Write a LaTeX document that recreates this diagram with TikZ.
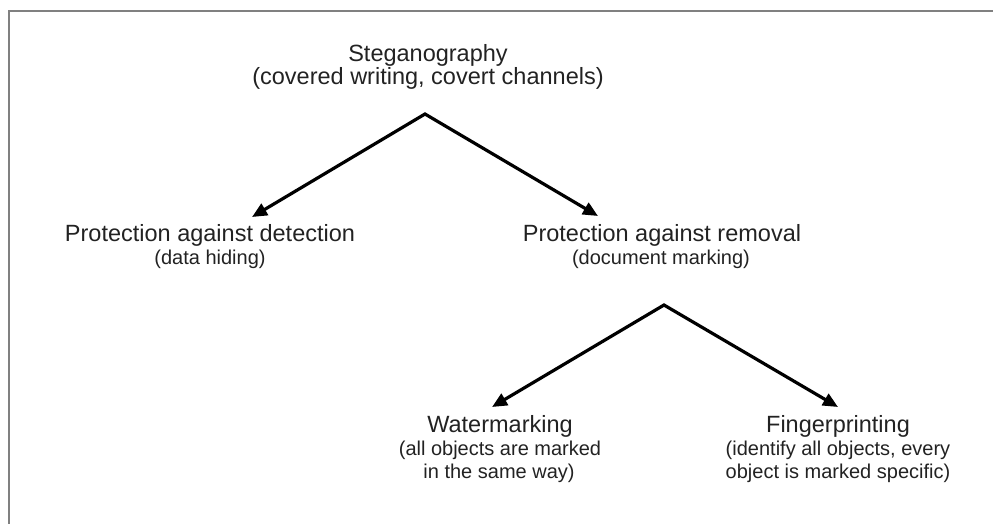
\documentclass[tikz,border=0pt]{standalone}
\usepackage{fontspec}
\setmainfont{Liberation Sans}
\usetikzlibrary{arrows.meta}
\definecolor{txt}{HTML}{222222}
\definecolor{frame}{HTML}{808080}
\tikzset{
  mainline/.style={anchor=base, inner sep=0pt, text=txt, font=\fontsize{23.5}{26}\selectfont},
  subline/.style={anchor=base, inner sep=0pt, text=txt, font=\fontsize{20}{23}\selectfont},
  branch/.style={line width=3.2pt, black, {Triangle[length=15pt,width=13pt]}-{Triangle[length=15pt,width=13pt]}},
  frameline/.style={frame, line width=2pt}
}
\begin{document}
\begin{tikzpicture}[x=1pt,y=-1pt]
\useasboundingbox (0,0) rectangle (993,523);
% frame (top and left edges)
\coordinate (fbl) at (9,524);
\coordinate (ftl) at (9,11);
\coordinate (ftr) at (994,11);
\draw[frameline] (fbl) -- (ftl) -- (ftr);

% texts
\node[mainline] (steg1) at (428,61) {Steganography};
\node[mainline] (steg2) at (428,84) {(covered writing, covert channels)};

\node[mainline] (det1) at (210,241.7) {Protection against detection};
\node[subline]  (det2) at (210,264) {(data hiding)};

\node[mainline] (rem1) at (662,241.7) {Protection against removal};
\node[subline]  (rem2) at (661,264) {(document marking)};

\node[mainline] (wat1) at (500,432) {Watermarking};
\node[subline]  (wat2) at (500,455) {(all objects are marked};
\node[subline]  (wat3) at (499,478) {in the same way)};

\node[mainline] (fin1) at (838,432) {Fingerprinting};
\node[subline]  (fin2) at (838,455) {(identify all objects, every};
\node[subline]  (fin3) at (838,478) {object is marked specific)};

% connectors
\coordinate (apexA) at (425,114);
\coordinate (tipDet) at (252,217);
\coordinate (tipRem) at (598,216);
\draw[branch] (tipDet) -- (apexA) -- (tipRem);

\coordinate (apexB) at (664,305);
\coordinate (tipWat) at (492,407);
\coordinate (tipFin) at (838,407);
\draw[branch] (tipWat) -- (apexB) -- (tipFin);
\end{tikzpicture}
\end{document}
